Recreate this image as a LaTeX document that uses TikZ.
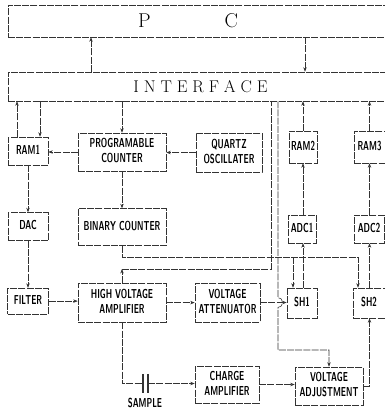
\documentclass[tikz,border=0pt]{standalone}
\usepackage{graphicx}
\usepackage{tikz}
\usetikzlibrary{arrows.meta,positioning,calc}
\newcommand{\cnd}[1]{\scalebox{0.62}[1]{\begin{tabular}{@{}c@{}}#1\end{tabular}}}
\newcommand{\spc}{\hspace{4.9pt}}
\tikzset{
  wire/.style={draw=black!80, line width=0.55pt, dash pattern=on 7pt off 1.2pt},
  blk/.style={rectangle, wire, inner sep=0pt, align=center,
    font=\sffamily\bfseries\fontsize{13}{15}\selectfont},
  arr/.style={wire, -{Stealth[length=4.5pt,width=3.4pt]}},
  ln/.style={wire},
}
\begin{document}
\begin{tikzpicture}[x=1pt, y=-1pt]
  \useasboundingbox (0,0) rectangle (385,410);
  \node[blk, minimum width=380pt, minimum height=32pt, font=\rmfamily\fontsize{20}{22}\selectfont] (pc) at (198,21)
    {\hspace*{-20pt}P\hspace{74pt}C};
  \node[blk, minimum width=380pt, minimum height=29pt, font=\rmfamily\fontsize{17}{19}\selectfont] (iface) at (198,86.5)
    {\hspace*{5pt}I\spc N\spc T\spc E\spc R\spc F\spc A\spc C\spc E};
  % first row
  \node[blk, minimum width=40pt, minimum height=28pt] (ram1) at (28,151) {\cnd{RAM1}};
  \node[blk, minimum width=88pt, minimum height=38pt] (prog) at (122,152) {\cnd{PROGRAMABLE\\COUNTER}};
  \node[blk, minimum width=66pt, minimum height=39pt] (quartz) at (229,152.5) {\cnd{QUARTZ\\OSCILLATER}};
  \node[blk, minimum width=28pt, minimum height=32pt] (ram2) at (303,147) {\cnd{RAM2}};
  \node[blk, minimum width=31pt, minimum height=32pt] (ram3) at (369.5,147) {\cnd{RAM3}};
  % second row
  \node[blk, minimum width=40pt, minimum height=28pt, below=47pt of ram1] (dac) {\cnd{DAC}};
  \node[blk, minimum width=88pt, minimum height=37pt, below=37pt of prog] (bcount) {\cnd{BINARY COUNTER}};
  \node[blk, minimum width=28pt, minimum height=28pt] (adc1) at (302,229) {\cnd{ADC1}};
  \node[blk, minimum width=30pt, minimum height=28pt] (adc2) at (369,229) {\cnd{ADC2}};
  % third row
  \node[blk, minimum width=41pt, minimum height=26pt, below=47pt of dac] (filter) {\cnd{FILTER}};
  \node[blk, minimum width=88pt, minimum height=39pt, below=37pt of bcount] (hva) {\cnd{HIGH VOLTAGE\\AMPLIFIER}};
  \node[blk, minimum width=65pt, minimum height=39pt] (vatt) at (227.5,302.5) {\cnd{VOLTAGE\\ATTENUATOR}};
  \node[blk, minimum width=30pt, minimum height=30pt] (sh1) at (302,303) {\cnd{SH1}};
  \node[blk, minimum width=32pt, minimum height=30pt] (sh2) at (369,303) {\cnd{SH2}};
  % last row
  \node[blk, minimum width=64pt, minimum height=37pt] (camp) at (227,384.5) {\cnd{CHARGE\\AMPLIFIER}};
  \node[blk, minimum width=68pt, minimum height=38pt] (vadj) at (329,386) {\cnd{VOLTAGE\\ADJUSTMENT}};
  \node[minimum width=5pt, minimum height=19pt, inner sep=0pt] (cap) at (145.5,383.5) {};
  \node[font=\sffamily\bfseries\fontsize{13}{15}\selectfont, inner sep=0pt] (smp) at (145,404) {\cnd{SAMPLE}};

  \coordinate (up) at (91,0);
  \coordinate (dn) at (305,0);
  \coordinate (r1a) at (17,0);
  \coordinate (r1b) at (40,0);
  \coordinate (trig) at (0,257);
  \coordinate (mon) at (271,269);
  \coordinate (ctl) at (278,350);
  \coordinate (s1in) at ([xshift=-9pt]sh1.north);
  \coordinate (s2in) at ([xshift=-11pt]sh2.north);

  \draw[arr] (up |- iface.north) -- (up |- pc.south);
  \draw[arr] (dn |- pc.south) -- (dn |- iface.north);
  \draw[arr] (r1a |- ram1.north) -- (r1a |- iface.south);
  \draw[arr] (r1b |- iface.south) -- (r1b |- ram1.north);
  \draw[arr] (prog.north |- iface.south) -- (prog.north);
  \draw[arr] (prog.west) -- (prog.west -| ram1.east);
  \draw[arr] (quartz.west) -- (quartz.west -| prog.east);
  \draw[arr] (prog) -- (bcount);
  \draw[arr] (ram1) -- (dac);
  \draw[arr] (dac) -- (filter);
  \draw[arr] (filter.east) -- (filter.east -| hva.west);
  \draw[arr] (hva.east) -- (hva.east -| vatt.west);
  \draw[arr] (vatt.east) -- (vatt.east -| sh1.west);
  \draw[arr] (ram2.north) -- (ram2.north |- iface.south);
  \draw[arr] (ram3.north) -- (ram3.north |- iface.south);
  \draw[arr] (ram2.south |- adc1.north) -- (ram2.south);
  \draw[arr] (ram3.south |- adc2.north) -- (ram3.south);
  \draw[arr] (ram2.south |- sh1.north) -- (ram2.south |- adc1.south);
  \draw[arr] (ram3.south |- sh2.north) -- (ram3.south |- adc2.south);
  % binary counter to the sample-holds
  \draw[arr] (bcount.south) |- (s2in |- trig) -- (s2in);
  \draw[arr] (s1in |- trig) -- (s1in);
  % amplifier back to the interface
  \draw[arr] (hva.north) -- (hva.north |- mon);
  \draw[ln] (hva.north |- mon) -- (mon) -- (mon |- iface.south);
  % interface to voltage adjustment
  \draw[arr] (ctl |- iface.south) -- ($(ctl |- vatt.east)+(0,-5)$)
    .. controls +(6,0) and +(6,0) .. ($(ctl |- vatt.east)+(0,5)$) -- (ctl) -| (vadj.north);
  \draw[arr] (vadj.east) -| (ram3.south |- sh2.south);
  % sample branch
  \draw[ln] (hva.south) |- (cap.west);
  \draw[line width=1.6pt, black!80] (cap.north west) -- (cap.south west) (cap.north east) -- (cap.south east);
  \draw[arr] (cap.east) -- (cap.east -| camp.west);
  \draw[arr] (camp.east) -- (camp.east -| vadj.west);
\end{tikzpicture}
\end{document}
